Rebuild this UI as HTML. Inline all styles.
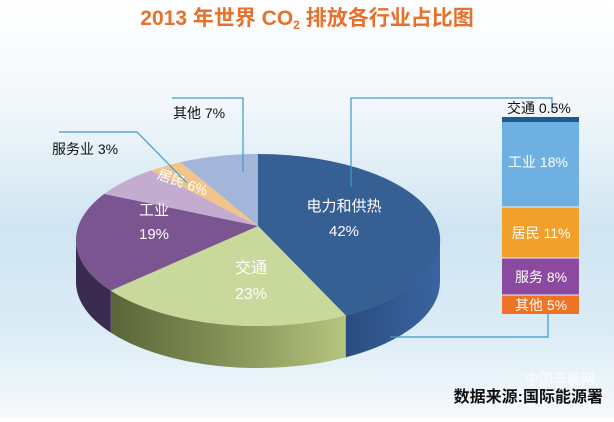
<!DOCTYPE html>
<html><head><meta charset="utf-8"><style>
html,body{margin:0;padding:0;}
body{width:614px;height:417px;overflow:hidden;font-family:"Liberation Sans","Noto Sans CJK SC",sans-serif;}
</style></head><body>
<svg width="614" height="417" viewBox="0 0 614 417" xmlns="http://www.w3.org/2000/svg" font-family="Liberation Sans, Noto Sans CJK SC, sans-serif">
<defs>
<linearGradient id="bg" x1="0" y1="0" x2="0" y2="1">
<stop offset="0" stop-color="#ffffff"/><stop offset="0.25" stop-color="#f2f7fb"/>
<stop offset="0.55" stop-color="#cfe5f2"/><stop offset="0.8" stop-color="#dcecf6"/><stop offset="1" stop-color="#f6fafd"/>
</linearGradient>
<linearGradient id="gs" x1="0" y1="0" x2="1" y2="0">
<stop offset="0" stop-color="#5a6538"/><stop offset="0.6" stop-color="#8d9c5e"/><stop offset="1" stop-color="#b5c47e"/>
</linearGradient>
<linearGradient id="bs" x1="0" y1="0" x2="1" y2="0">
<stop offset="0" stop-color="#2a4d80"/><stop offset="1" stop-color="#3a64a0"/>
</linearGradient>
</defs>
<rect width="614" height="417" fill="url(#bg)"/>
<text x="307" y="25" text-anchor="middle" font-size="21" font-weight="bold" fill="#e8702a">2013 年世界 CO<tspan font-size="12" dy="4">2</tspan><tspan dy="-4"> 排放各行业占比图</tspan></text>

<path d="M440,240 A182,86 0 0 1 345.7,315.4 L345.7,357.4 A182,86 0 0 0 440,282 Z" fill="url(#bs)"/>
<path d="M345.7,315.4 A182,86 0 0 1 110.8,290.6 L110.8,332.6 A182,86 0 0 0 345.7,357.4 Z" fill="url(#gs)"/>
<path d="M110.8,290.6 A182,86 0 0 1 76,240 L76,282 A182,86 0 0 0 110.8,332.6 Z" fill="#3c2b50"/>

<path d="M258,226 L258,154 A182,86 0 0 1 345.7,315.4 Z" fill="#365f94"/>
<path d="M258,226 L345.7,315.4 A182,86 0 0 1 110.8,290.6 Z" fill="#c9d89b"/>
<path d="M258,226 L110.8,290.6 A182,86 0 0 1 104.3,193.9 Z" fill="#7b5590"/>
<path d="M258,226 L104.3,193.9 A182,86 0 0 1 151,170.4 Z" fill="#c3accf"/>
<path d="M258,226 L151,170.4 A182,86 0 0 1 180.5,162.2 Z" fill="#f1c58a"/>
<path d="M258,226 L180.5,162.2 A182,86 0 0 1 258,154 Z" fill="#a3b6da"/>

<g fill="#fff" text-anchor="middle" font-size="15">
<text x="344" y="211">电力和供热</text><text x="344" y="236">42%</text>
<text x="251" y="273" font-size="16">交通</text><text x="251" y="299" font-size="16">23%</text>
<text x="154" y="215">工业</text><text x="154" y="239">19%</text>
<text x="181" y="187" font-size="14" transform="rotate(20 181 187)">居民 6%</text>
</g>

<g stroke="#3c9cc8" stroke-width="1.2" fill="none">
<polyline points="172,98 243,98 243,172"/>
<polyline points="59,132 137,132 187,183"/>
<polyline points="351,187 351,98 552,98 552,112"/>
<polyline points="390,337 548,337 548,314"/>
</g>
<g font-size="14" fill="#111">
<text x="173" y="118">其他 7%</text>
<text x="52" y="154">服务业 3%</text>
<text x="507" y="113">交通 0.5%</text>
</g>

<rect x="502" y="117" width="77" height="5" fill="#1d5a94"/>
<rect x="502" y="122" width="77" height="85" fill="#6fb0e3"/>
<rect x="502" y="207" width="77" height="51" fill="#f2a02c"/>
<rect x="502" y="258" width="77" height="37" fill="#8c49a0"/>
<rect x="502" y="295" width="77" height="19" fill="#ee7324"/>
<g stroke="#e8eef4" stroke-width="1"><line x1="502" y1="207" x2="579" y2="207"/><line x1="502" y1="258" x2="579" y2="258"/><line x1="502" y1="295" x2="579" y2="295"/></g>
<g fill="#fff" font-size="14" text-anchor="middle">
<text x="538" y="167">工业 18%</text>
<text x="541" y="238">居民 11%</text>
<text x="541" y="282">服务 8%</text>
<text x="541" y="310">其他 5%</text>
</g>

<text x="603" y="402" text-anchor="end" font-size="16" font-weight="bold" fill="#111">数据来源:国际能源署</text>
<text x="560" y="384" text-anchor="middle" font-size="14" fill="#ffffff" opacity="0.85">中国节能网</text>
</svg>
</body></html>
